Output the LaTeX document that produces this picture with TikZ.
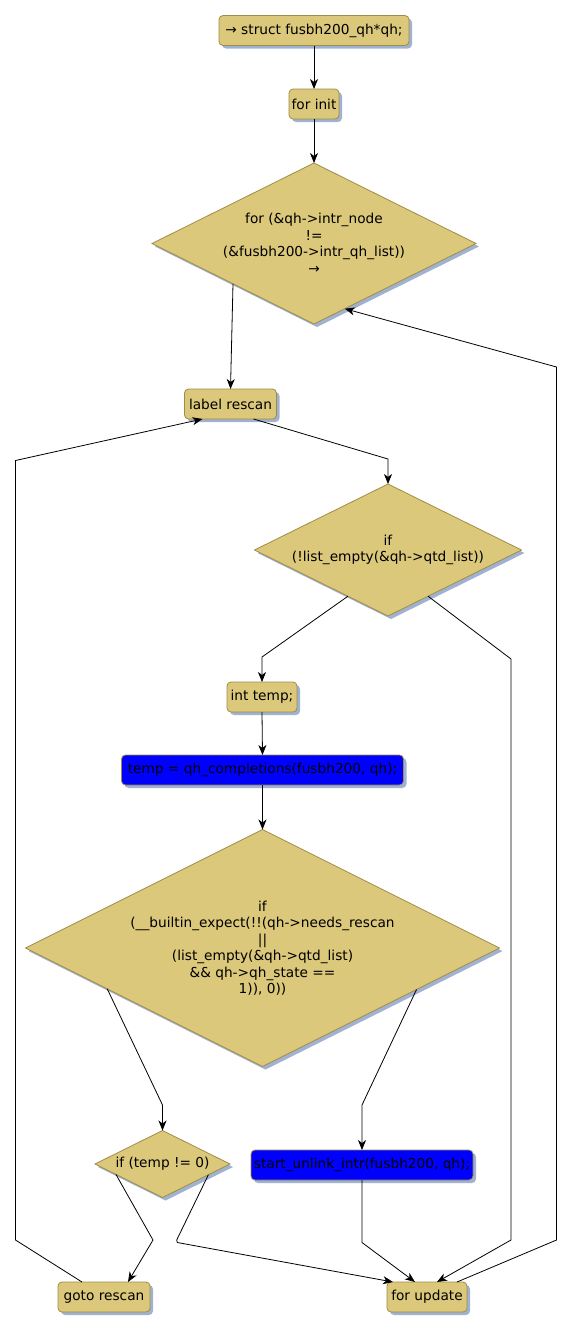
\documentclass[tikz,border=0pt]{standalone}
\usepackage{fontspec}
\setmainfont{DejaVu Sans}
\usetikzlibrary{shapes.geometric,arrows.meta,calc,shadows}
\definecolor{nodefill}{RGB}{219,200,123}
\definecolor{nodeline}{RGB}{160,140,70}
\definecolor{shadowc}{RGB}{160,178,210}
\definecolor{bluefill}{RGB}{0,0,255}
\tikzset{
 base/.style={draw=nodeline, line width=0.8pt, fill=nodefill, inner sep=0pt, outer sep=0pt,
   font=\fontsize{13.7}{16.5}\selectfont, align=center,
   general shadow={shadow xshift=3pt, shadow yshift=-3pt, fill=shadowc}},
 actbox/.style={base, rectangle, rounded corners=4pt, minimum height=30pt},
 bluebox/.style={actbox, fill=bluefill},
 decbox/.style={base, diamond, aspect=2},
 arr/.style={-{Stealth[length=10pt,width=8pt,inset=3pt]}, line width=0.8pt, black}
}
\begin{document}
\begin{tikzpicture}[x=1pt,y=-1pt]
\useasboundingbox (0,0) rectangle (572,1331);
\node[actbox, minimum width=190pt] (st) at (314,30.5) {→ struct fusbh200\_qh*qh;};
\node[actbox, minimum width=50pt] (fi) at (314,104) {for init};
\node[decbox, minimum width=324pt, minimum height=161pt] (d1) at (314,243.5) {for (\&qh->intr\_node\\!=\\(\&fusbh200->intr\_qh\_list))\\→};
\node[actbox, minimum width=92pt] (lr) at (230.5,404) {label rescan};
\node[decbox, minimum width=267pt, minimum height=132pt] (d2) at (388,550) {if\\(!list\_empty(\&qh->qtd\_list))};
\node[actbox, minimum width=70pt] (it) at (262,697) {int temp;};
\node[bluebox, minimum width=282pt, minimum height=30pt] (b1) at (262.5,770) {temp = qh\_completions(fusbh200, qh);};
\node[decbox, minimum width=474pt, minimum height=237pt] (d3) at (262.5,948) {if\\(\_\_builtin\_expect(!!(qh->needs\_rescan\\||\\(list\_empty(\&qh->qtd\_list)\\\&\& qh->qh\_state ==\\1)), 0))};
\node[decbox, minimum width=135pt, minimum height=67pt] (d4) at (162.5,1164) {if (temp != 0)};
\node[bluebox, minimum width=222pt] (ul) at (362,1165) {start\_unlink\_intr(fusbh200, qh);};
\node[actbox, minimum width=92pt] (gr) at (104,1297) {goto rescan};
\node[actbox, minimum width=80pt] (fu) at (427,1297) {for update};

\draw[arr] (st.south) -- (fi.north);
\draw[arr] (fi.south) -- (d1.north);
\draw[arr] (d1.south west) -- (lr.north);
\draw[arr] ($(lr.south)+(23,0)$) -- ($(d2.north)+(0,-25)$) -- (d2.north);
\draw[arr] ($(d2.west)!0.7!(d2.south)$) -- ($(it.north)+(0,-25)$) -- (it.north);
\draw[arr] ($(d2.south)!0.3!(d2.east)$) -- (511,659) -- (511,1240) -- ($(fu.north)+(10,0)$);
\draw[arr] (it.south) -- (b1.north);
\draw[arr] (b1.south) -- (d3.north);
\draw[arr] ($(d3.west)!0.345!(d3.south)$) -- (162.5,1105) -- (d4.north);
\draw[arr] ($(d3.south)!0.65!(d3.east)$) -- (362,1105) -- (ul.north);
\draw[arr] ($(d4.west)!0.31!(d4.south)$) -- (153,1240) -- ($(gr.north)+(24,0)$);
\draw[arr] ($(d4.south)!0.68!(d4.east)$) -- (176.7,1240) -- (177.3,1242.5) -- ($(fu.north)+(-34,0)$);
\draw[arr] (ul.south) -- (362,1242.5) -- ($(fu.north)+(-12,0)$);
\draw[arr] ($(fu.north)+(30,0)$) -- (556.5,1240) -- (556.5,367) -- ($(d1.south)!0.19!(d1.east)$);
\draw[arr] ($(gr.north)+(-22,0)$) -- (15.5,1240) -- (15.5,460.5) -- ($(lr.south)+(-28,0)$);
\end{tikzpicture}
\end{document}
